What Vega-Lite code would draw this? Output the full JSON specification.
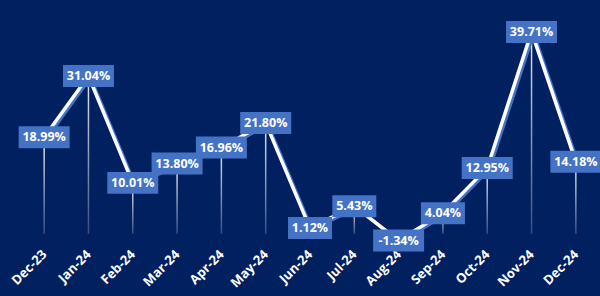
{
  "$schema": "https://vega.github.io/schema/vega-lite/v6.json",
  "autosize": "none",
  "width": 576,
  "height": 244,
  "padding": {"left": 22, "top": 5, "right": 2, "bottom": 47},
  "background": "#002060",
  "config": {
    "view": {"stroke": null},
    "font": "Open Sans"
  },
  "data": {
    "values": [
      {"month": "Dec-23", "value": 18.99, "label": "18.99%"},
      {"month": "Jan-24", "value": 31.04, "label": "31.04%"},
      {"month": "Feb-24", "value": 10.01, "label": "10.01%"},
      {"month": "Mar-24", "value": 13.80, "label": "13.80%"},
      {"month": "Apr-24", "value": 16.96, "label": "16.96%"},
      {"month": "May-24", "value": 21.80, "label": "21.80%"},
      {"month": "Jun-24", "value": 1.12, "label": "1.12%"},
      {"month": "Jul-24", "value": 5.43, "label": "5.43%"},
      {"month": "Aug-24", "value": -1.34, "label": "-1.34%"},
      {"month": "Sep-24", "value": 4.04, "label": "4.04%"},
      {"month": "Oct-24", "value": 12.95, "label": "12.95%"},
      {"month": "Nov-24", "value": 39.71, "label": "39.71%"},
      {"month": "Dec-24", "value": 14.18, "label": "14.18%"}
    ]
  },
  "encoding": {
    "x": {
      "field": "month", "type": "ordinal", "sort": null,
      "scale": {"type": "point", "padding": 0.5},
      "axis": {
        "title": null, "labelAngle": -45, "labelAlign": "right", "labelBaseline": "middle",
        "labelColor": "#ffffff", "labelFontWeight": "bold", "labelFontSize": 13,
        "labelFont": "Open Sans", "domain": false, "ticks": false, "grid": false, "labelPadding": 3
      }
    },
    "y": {
      "field": "value", "type": "quantitative",
      "scale": {"domain": [-3, 45], "nice": false, "zero": false},
      "axis": null
    }
  },
  "layer": [
    {
      "mark": {
        "type": "bar", "width": 1.5,
        "color": {
          "gradient": "linear", "x1": 0, "y1": 0, "x2": 0, "y2": 1,
          "stops": [
            {"offset": 0, "color": "#e8ecf5"},
            {"offset": 1, "color": "#3a4c80"}
          ]
        }
      },
      "encoding": {"y2": {"datum": 0}}
    },
    {
      "mark": {"type": "line", "color": "#4472c4", "strokeWidth": 3.5, "xOffset": 2, "yOffset": 1.5},
      "encoding": {}
    },
    {
      "mark": {"type": "line", "color": "#ffffff", "strokeWidth": 3.5},
      "encoding": {}
    },
    {
      "transform": [{"filter": "length(datum.label) > 5"}],
      "mark": {"type": "point", "filled": true, "opacity": 1, "color": "#4472c4", "strokeWidth": 0,
        "shape": "M-1,-0.431L1,-0.431L1,0.431L-1,0.431Z", "size": 2601}
    },
    {
      "transform": [{"filter": "length(datum.label) <= 5"}],
      "mark": {"type": "point", "filled": true, "opacity": 1, "color": "#4472c4", "strokeWidth": 0,
        "shape": "M-1,-0.5L1,-0.5L1,0.5L-1,0.5Z", "size": 1936}
    },
    {
      "mark": {"type": "text", "color": "#ffffff", "fontWeight": "bold", "fontSize": 12.5, "font": "Open Sans", "baseline": "middle", "align": "center"},
      "encoding": {"text": {"field": "label"}}
    }
  ]
}
